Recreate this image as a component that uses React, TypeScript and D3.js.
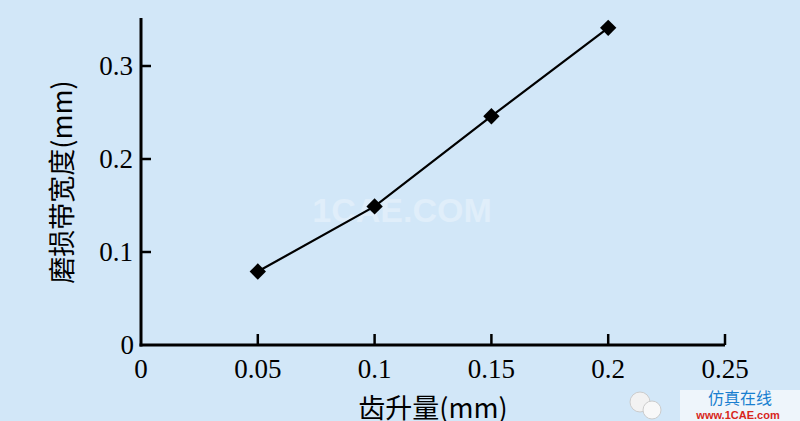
import * as d3 from "d3";

const xValues = [0.05, 0.1, 0.15, 0.2];
const yValues = [0.079, 0.149, 0.246, 0.341];
const xTicks = [0, 0.05, 0.1, 0.15, 0.2, 0.25];
const xTickLabels = ["0", "0.05", "0.1", "0.15", "0.2", "0.25"];
const yTicks = [0, 0.1, 0.2, 0.3];
const yTickLabels = ["0", "0.1", "0.2", "0.3"];
const xTitle = "齿升量(mm)";
const yTitle = "磨损带宽度(mm)";

const width = 800,
    height = 421;
const serif = "'Liberation Serif', 'DejaVu Serif', serif";
const cjk = "'Noto Sans CJK SC', 'Liberation Serif', serif";

export default function App() {
    const x = d3.scaleLinear().domain([0, 0.25]).range([141, 725]);
    const y = d3.scaleLinear().domain([0, 0.3]).range([345, 66]);

    const points = xValues.map((v, i) => [x(v), y(yValues[i])] as [number, number]);
    const line = d3.line()(points) || "";
    const diamond = d3.symbol().type(d3.symbolDiamond2).size(170)() || "";

    return (
        <svg width={width} height={height} style={{ position: "absolute", left: 0, top: 0 }}>
            <rect width={width} height={height} fill="#d2e7f8" />

            {/* faint watermark */}
            <text x={402} y={222} textAnchor="middle" fontFamily="'Liberation Sans', sans-serif"
                fontWeight="bold" fontSize={34} fill="#e0eefa">1CAE.COM</text>

            {/* axes */}
            <line x1={x(0)} x2={x(0)} y1={18} y2={y(0) + 1.5} stroke="#000" strokeWidth={3} />
            <line x1={x(0) - 1.5} x2={x(0.25)} y1={y(0)} y2={y(0)} stroke="#000" strokeWidth={3} />

            {yTicks.map((t, i) => (
                <g key={"y" + i}>
                    {i > 0 && <line x1={x(0)} x2={x(0) + 10} y1={y(t)} y2={y(t)} stroke="#000" strokeWidth={2.5} />}
                    <text x={i === 0 ? 134 : 133} y={y(t) + 9} textAnchor="end" fontFamily={serif} fontSize={27}>
                        {yTickLabels[i]}
                    </text>
                </g>
            ))}

            {xTicks.map((t, i) => (
                <g key={"x" + i}>
                    {i > 0 && <line x1={x(t)} x2={x(t)} y1={y(0)} y2={y(0) - 11} stroke="#000" strokeWidth={2.5} />}
                    <text x={x(t)} y={378} textAnchor="middle" fontFamily={serif} fontSize={27}>
                        {xTickLabels[i]}
                    </text>
                </g>
            ))}

            <text transform={`translate(72,182) rotate(-90)`} textAnchor="middle" fontFamily={cjk} fontSize={27}>
                {yTitle}
            </text>
            <text x={433} y={418} textAnchor="middle" fontFamily={cjk} fontSize={27}>
                {xTitle}
            </text>

            <path d={line} fill="none" stroke="#000" strokeWidth={2.2} />
            {points.map((p, i) => (
                <path key={"m" + i} d={diamond} transform={`translate(${p[0]},${p[1]})`} fill="#000" />
            ))}

            {/* logo corner */}
            <rect x={680} y={390} width={120} height={31} fill="#eef5fb" />
            <circle cx={640} cy={402} r={10} fill="#f2f2f2" stroke="#ccc" />
            <circle cx={652} cy={410} r={9} fill="#f8f8f8" stroke="#ccc" />
            <text x={740} y={404} textAnchor="middle" fontFamily={cjk} fontSize={16} fill="#1a7fd0">仿真在线</text>
            <text x={738} y={419} textAnchor="middle" fontFamily="'Liberation Sans', sans-serif"
                fontWeight="bold" fontSize={11} fill="#d8261c">www.1CAE.com</text>
        </svg>
    );
}
